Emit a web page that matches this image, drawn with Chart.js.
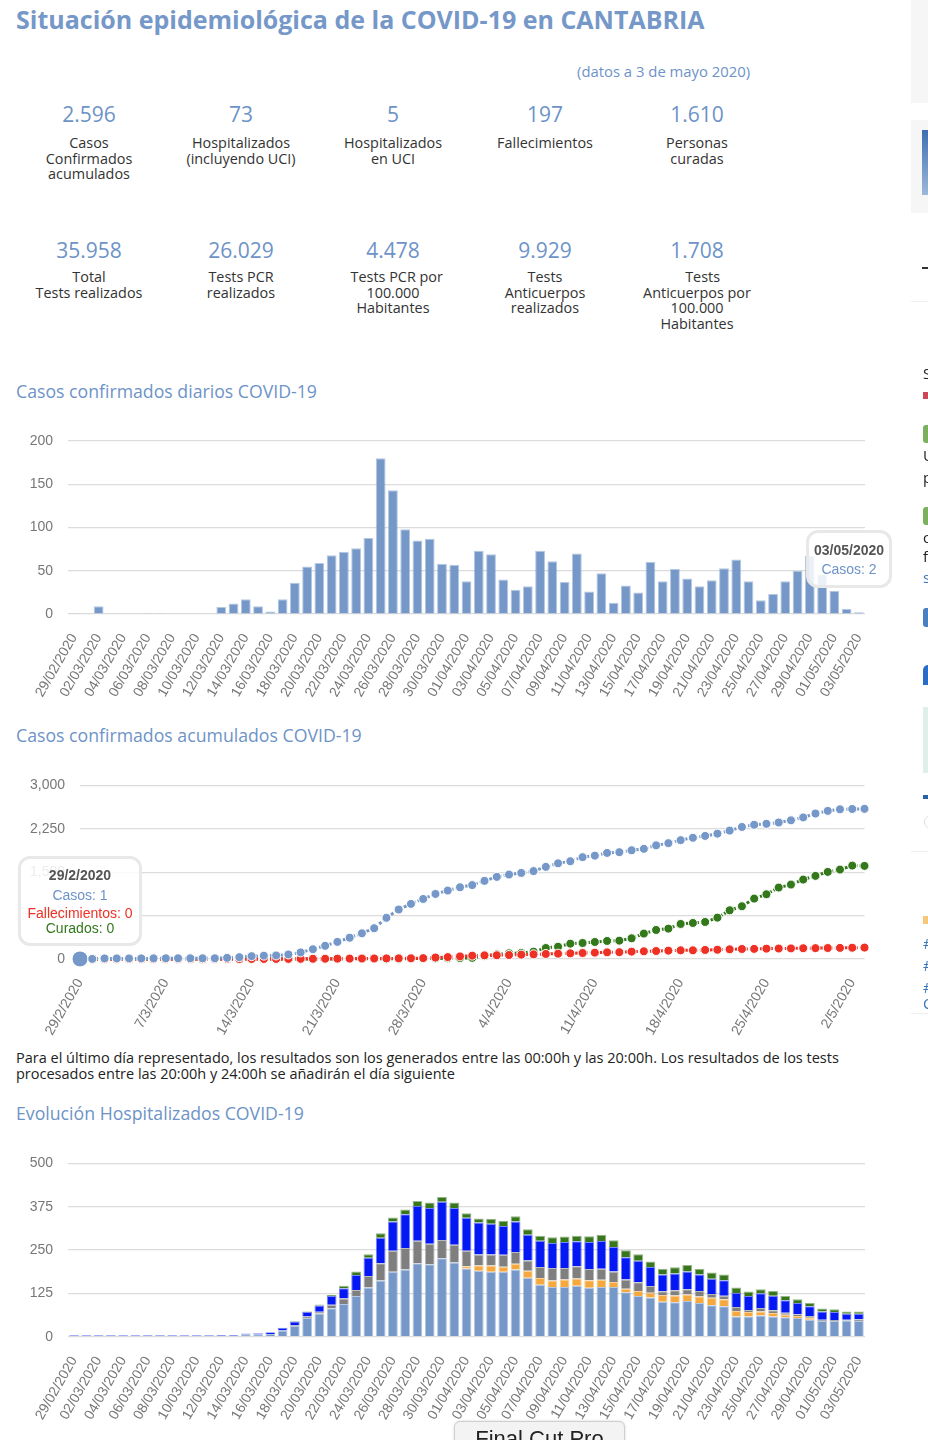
<!DOCTYPE html>
<html lang="es">
<head>
<meta charset="utf-8">
<title>Situación epidemiológica COVID-19 Cantabria</title>
<script src="https://cdn.jsdelivr.net/npm/chart.js@4"></script>
<style>
html, body { margin: 0; padding: 0; background: #fff; }
body { position: relative; width: 928px; height: 1440px; overflow: hidden; font-family: "Open Sans", sans-serif; }
.abs { position: absolute; }
h1 { position: absolute; left: 16px; top: 2px; margin: 0; font-size: 25px; line-height: 34px; font-weight: 700; color: #7598c9; white-space: nowrap; }
h2 { position: absolute; left: 16px; margin: 0; font-size: 17.7px; line-height: 26px; font-weight: 400; color: #6d93c7; white-space: nowrap; }
.num { position: absolute; width: 150px; text-align: center; font-size: 21px; line-height: 28px; color: #6d93c7; }
.lab { position: absolute; width: 150px; text-align: center; font-size: 14.4px; line-height: 15.6px; color: #333; white-space: pre-line; }
canvas { position: absolute; left: 0; }
.tip { position: absolute; box-sizing: border-box; background: rgba(255,255,255,.86); border: 3px solid #e8e8e8; border-radius: 12px; font-family: "Liberation Sans", sans-serif; font-size: 14px; text-align: center; }
.tip b { color: #555; display: block; }
.tip span { display: block; }
.side { position: absolute; left: 911px; width: 17px; }
.frag { position: absolute; left: 923px; font-size: 15px; line-height: 18px; color: #222; }
</style>
</head>
<body>
<h1>Situación epidemiológica de la COVID-19 en CANTABRIA</h1>
<div class="abs" style="left:577px;top:61px;font-size:14.85px;line-height:20px;color:#6d93c7;white-space:nowrap">(datos a 3 de mayo 2020)</div>

<div id="stats"></div>

<h2 style="top:378px">Casos confirmados diarios COVID-19</h2>
<canvas id="diarios"></canvas>
<div class="tip" style="left:806px;top:530px;width:86px;height:58px;padding-top:8px;line-height:19px"><b>03/05/2020</b><span style="color:#6d93c7">Casos: 2</span></div>

<h2 style="top:722px">Casos confirmados acumulados COVID-19</h2>
<canvas id="acumulados"></canvas>
<div class="tip" style="left:18px;top:856px;width:124px;height:90px;padding-top:6.5px"><b style="line-height:19px">29/2/2020</b><span style="color:#6d93c7;line-height:21px">Casos: 1</span><span style="color:#ee3124;line-height:15.5px">Fallecimientos: 0</span><span style="color:#33791b;line-height:15.5px">Curados: 0</span></div>

<div class="abs" style="left:16px;top:1050px;width:870px;font-size:14.5px;line-height:16px;color:#222">Para el último día representado, los resultados son los generados entre las 00:00h y las 20:00h. Los resultados de los tests procesados entre las 20:00h y 24:00h se añadirán el día siguiente</div>

<h2 style="top:1100px">Evolución Hospitalizados COVID-19</h2>
<canvas id="hospitalizados"></canvas>

<!-- trozo de barra lateral recortada -->
<div class="side" style="top:0;height:103px;background:#f6f6f6"></div>
<div class="side" style="top:120px;height:93px;background:#f6f6f6"></div>
<div class="abs" style="left:922px;top:130px;width:6px;height:65px;background:linear-gradient(#3f6fb0,#9db8d8)"></div>
<div class="abs" style="left:922px;top:267px;width:6px;height:1.5px;background:#333"></div>
<div class="side" style="top:301px;height:1px;background:#eee"></div>
<div class="frag" style="top:364px">S</div>
<div class="abs" style="left:923px;top:392px;width:5px;height:7px;background:#c9485a"></div>
<div class="abs" style="left:923px;top:425px;width:5px;height:18px;background:#7cb05f;border-radius:3px 0 0 3px"></div>
<div class="frag" style="top:446px">U</div>
<div class="frag" style="top:468px">p</div>
<div class="abs" style="left:923px;top:507px;width:5px;height:18px;background:#7cb05f;border-radius:3px 0 0 3px"></div>
<div class="frag" style="top:528px">o</div>
<div class="frag" style="top:547px">f</div>
<div class="frag" style="top:568px;color:#3a76b8">s</div>
<div class="abs" style="left:923px;top:608px;width:5px;height:19px;background:#4a7fc0;border-radius:3px 0 0 3px"></div>
<div class="abs" style="left:923px;top:665px;width:5px;height:20px;background:#2b6cc4;border-radius:5px 0 0 0"></div>
<div class="abs" style="left:923px;top:707px;width:5px;height:66px;background:#dff0ea"></div>
<div class="abs" style="left:923px;top:795px;width:5px;height:4px;background:#2a62a8"></div>
<div class="abs" style="left:924px;top:815px;width:12px;height:12px;border:1px solid #ddd;border-radius:7px"></div>
<div class="side" style="top:851px;height:1px;background:#eee"></div>
<div class="abs" style="left:923px;top:916px;width:5px;height:8px;background:#f6c77a"></div>
<div class="frag" style="top:934px;color:#3a76b8">#</div>
<div class="frag" style="top:956px;color:#3a76b8">#</div>
<div class="frag" style="top:978px;color:#3a76b8">#</div>
<div class="frag" style="top:994px;color:#3a76b8">C</div>
<div class="side" style="top:1013px;height:1px;background:#eee"></div>

<div class="abs" style="left:454px;top:1421px;width:169px;height:40px;background:#f3f3f3;border:1px solid #cfcfcf;border-radius:6px;box-shadow:0 0 3px rgba(0,0,0,.15);font-family:'Liberation Sans',sans-serif;font-size:22px;line-height:34px;text-align:center;color:#222">Final Cut Pro</div>

<script>
// Cifras de cabecera
const statCols = [89, 241, 393, 545, 697];
const statsTop = ['2.596', '73', '5', '197', '1.610'];
const labelsTop = ['Casos\nConfirmados\nacumulados', 'Hospitalizados\n(incluyendo UCI)', 'Hospitalizados\nen UCI', 'Fallecimientos', 'Personas\ncuradas'];
const statsBottom = ['35.958', '26.029', '4.478', '9.929', '1.708'];
const labelsBottom = ['Total\nTests realizados', 'Tests PCR\nrealizados', '\u00a0\u00a0Tests PCR por\n100.000\nHabitantes', 'Tests\nAnticuerpos\nrealizados', '\u00a0\u00a0\u00a0Tests\nAnticuerpos por\n100.000\nHabitantes'];

const fechas = [
    '29/02/2020', '01/03/2020', '02/03/2020', '03/03/2020', '04/03/2020', '05/03/2020', '06/03/2020', '07/03/2020', '08/03/2020', '09/03/2020',
    '10/03/2020', '11/03/2020', '12/03/2020', '13/03/2020', '14/03/2020', '15/03/2020', '16/03/2020', '17/03/2020', '18/03/2020', '19/03/2020',
    '20/03/2020', '21/03/2020', '22/03/2020', '23/03/2020', '24/03/2020', '25/03/2020', '26/03/2020', '27/03/2020', '28/03/2020', '29/03/2020',
    '30/03/2020', '31/03/2020', '01/04/2020', '02/04/2020', '03/04/2020', '04/04/2020', '05/04/2020', '06/04/2020', '07/04/2020', '08/04/2020',
    '09/04/2020', '10/04/2020', '11/04/2020', '12/04/2020', '13/04/2020', '14/04/2020', '15/04/2020', '16/04/2020', '17/04/2020', '18/04/2020',
    '19/04/2020', '20/04/2020', '21/04/2020', '22/04/2020', '23/04/2020', '24/04/2020', '25/04/2020', '26/04/2020', '27/04/2020', '28/04/2020',
    '29/04/2020', '30/04/2020', '01/05/2020', '02/05/2020', '03/05/2020'
];
const fechasCortas = [
    '29/2/2020', '1/3/2020', '2/3/2020', '3/3/2020', '4/3/2020', '5/3/2020', '6/3/2020', '7/3/2020', '8/3/2020', '9/3/2020',
    '10/3/2020', '11/3/2020', '12/3/2020', '13/3/2020', '14/3/2020', '15/3/2020', '16/3/2020', '17/3/2020', '18/3/2020', '19/3/2020',
    '20/3/2020', '21/3/2020', '22/3/2020', '23/3/2020', '24/3/2020', '25/3/2020', '26/3/2020', '27/3/2020', '28/3/2020', '29/3/2020',
    '30/3/2020', '31/3/2020', '1/4/2020', '2/4/2020', '3/4/2020', '4/4/2020', '5/4/2020', '6/4/2020', '7/4/2020', '8/4/2020',
    '9/4/2020', '10/4/2020', '11/4/2020', '12/4/2020', '13/4/2020', '14/4/2020', '15/4/2020', '16/4/2020', '17/4/2020', '18/4/2020',
    '19/4/2020', '20/4/2020', '21/4/2020', '22/4/2020', '23/4/2020', '24/4/2020', '25/4/2020', '26/4/2020', '27/4/2020', '28/4/2020',
    '29/4/2020', '30/4/2020', '1/5/2020', '2/5/2020', '3/5/2020'
];

const casosDiarios = [
    1, 0, 9, 0, 0, 0, 1, 1, 0, 0, 0, 0, 8, 12, 17, 9, 3, 17, 36, 55, 59, 68, 72, 76, 88, 180, 143, 98, 85, 87, 58, 57,
    38, 73, 69, 40, 28, 32, 73, 61, 37, 70, 26, 47, 13, 33, 25, 60, 38, 52, 41, 32, 39, 53, 63, 38, 16, 23, 38, 50, 67, 46, 27, 6, 2
];

const casosAcum = [
    1, 1, 10, 10, 10, 10, 11, 12, 12, 12, 12, 12, 20, 32, 49, 58, 61, 78, 114, 169, 228, 296, 368, 444, 532, 712, 855, 953, 1038, 1125, 1183, 1240,
    1278, 1351, 1420, 1460, 1488, 1520, 1593, 1654, 1691, 1761, 1787, 1834, 1847, 1880, 1905, 1965, 2003, 2055, 2096, 2128, 2167, 2220, 2283, 2321, 2337, 2360, 2398, 2448, 2515, 2561, 2588, 2594, 2596
];
const fallecimientos = [
    0, 0, 0, 0, 0, 0, 0, 0, 0, 0, 0, 0, 0, 0, 1, 1, 1, 2, 3, 4, 5, 6, 7, 8, 9, 10, 11, 12, 15, 25, 33, 45,
    58, 63, 65, 69, 75, 81, 87, 92, 98, 104, 110, 115, 118, 127, 133, 138, 144, 150, 150, 156, 160, 167, 173, 175, 179, 181, 183, 186, 188, 190, 192, 195, 197
];
const curados = [
    0, 0, 0, 0, 0, 0, 0, 0, 0, 0, 0, 0, 0, 0, 0, 0, 0, 0, 1, 1, 2, 2, 3, 3, 4, 5, 5, 6, 8, 10, 12, 15,
    20, 50, 80, 98, 104, 127, 190, 213, 265, 277, 294, 312, 317, 358, 439, 502, 525, 606, 623, 640, 715, 842, 912, 1044, 1119, 1235, 1287, 1373, 1437, 1506, 1546, 1615, 1610
];

// Hospitalizados, de abajo arriba
const hospPlanta = [
    2, 2, 2, 2, 2, 2, 2, 2, 2, 2, 2, 2, 3, 3, 6, 6, 8, 18, 31, 54, 67, 82, 94, 117, 142, 162, 187, 194, 212, 209, 226, 214,
    197, 190, 187, 187, 194, 170, 150, 143, 143, 147, 141, 143, 143, 128, 117, 113, 101, 99, 103, 97, 91, 88, 58, 58, 61, 58, 56, 54, 49, 45, 45, 47, 45
];
const hospNaranja = [
    0, 0, 0, 0, 0, 0, 0, 0, 0, 0, 0, 0, 0, 0, 0, 0, 0, 0, 0, 0, 0, 0, 0, 0, 0, 0, 0, 0, 0, 0, 0, 0,
    6, 15, 18, 15, 16, 20, 19, 19, 22, 21, 22, 21, 15, 10, 15, 14, 19, 20, 19, 19, 21, 20, 16, 13, 12, 10, 7, 6, 6, 0, 0, 0, 0
];
const hospGris = [
    0, 0, 0, 0, 0, 0, 0, 0, 0, 0, 0, 0, 0, 0, 0, 0, 0, 0, 2, 4, 5, 10, 16, 18, 33, 50, 61, 62, 65, 59, 53, 51,
    45, 32, 32, 34, 34, 30, 32, 36, 33, 35, 32, 32, 30, 27, 25, 19, 11, 15, 15, 16, 11, 10, 12, 6, 10, 8, 6, 5, 5, 4, 3, 2, 5
];
const hospAzul = [
    2, 2, 2, 2, 2, 2, 2, 2, 2, 2, 2, 2, 2, 2, 3, 4, 5, 8, 11, 13, 18, 25, 30, 43, 53, 73, 84, 97, 100, 103, 110, 106,
    95, 92, 89, 83, 88, 74, 76, 72, 75, 72, 78, 80, 71, 64, 62, 55, 48, 48, 51, 47, 44, 45, 40, 40, 42, 42, 36, 32, 28, 24, 23, 17, 16
];
const hospVerde = [
    0, 0, 0, 0, 0, 0, 0, 0, 0, 0, 0, 0, 0, 0, 0, 0, 0, 0, 1, 2, 3, 3, 7, 10, 10, 13, 12, 14, 14, 16, 14, 16,
    13, 12, 14, 15, 15, 16, 14, 17, 16, 16, 17, 18, 19, 20, 19, 16, 17, 18, 19, 17, 18, 16, 16, 13, 12, 14, 12, 11, 9, 8, 8, 7, 7
];

const AZUL = '#7598c9';
const ROJO = '#ee3124';
const VERDE = '#33791b';
const tickFont = { family: '"Liberation Sans", sans-serif', size: 14 };

function pintarCifras() {
    const box = document.getElementById('stats');
    const add = (cls, txt, left, top) => {
        const d = document.createElement('div');
        d.className = cls;
        d.textContent = txt;
        d.style.left = (left - 75) + 'px';
        d.style.top = top + 'px';
        box.appendChild(d);
    };
    statCols.forEach((x, i) => {
        add('num', statsTop[i], x, 100);
        add('lab', labelsTop[i], x, 135);
        add('num', statsBottom[i], x, 236);
        add('lab', labelsBottom[i], x, 269);
    });
}

// Plot area fija: el eje y mide "left", el eje x lo que sobra por debajo
function fitY(left) {
    return s => { s.width = left; s.paddingTop = 0; s.paddingBottom = 0; s.paddingLeft = 0; s.paddingRight = 0; };
}
function fitX(height) {
    return s => { s.height = height; s.paddingTop = 0; s.paddingBottom = 0; s.paddingLeft = 0; s.paddingRight = 0; };
}

function ejes(left, bottom, yMax, yStep, skip, offset) {
    return {
        x: {
            offset: offset,
            stacked: offset,
            grid: { display: false },
            border: { display: false },
            afterFit: fitX(bottom),
            ticks: {
                autoSkip: false,
                minRotation: 60,
                maxRotation: 60,
                padding: 9,
                color: '#777',
                font: tickFont,
                callback: function(value, index) {
                    return index % skip === 0 ? this.getLabelForValue(value) : '';
                }
            }
        },
        y: {
            min: 0,
            max: yMax,
            stacked: offset,
            grid: { color: '#dcdcdc', drawTicks: false, lineWidth: 1.2 },
            border: { display: false },
            afterFit: fitY(left),
            ticks: {
                stepSize: yStep,
                padding: 15,
                color: '#777',
                font: tickFont,
                callback: v => v.toLocaleString('en-US')
            }
        }
    };
}

function crearCanvas(id, top, height) {
    const c = document.getElementById(id);
    c.style.top = top + 'px';
    c.style.width = '928px';
    c.style.height = height + 'px';
    c.width = 928;
    c.height = height;
    return c;
}

function barra(label, data, color) {
    return {
        label, data,
        backgroundColor: color,
        borderColor: color + '88',
        borderWidth: 1,
        barPercentage: 1,
        categoryPercentage: 0.8
    };
}

function linea(label, data, color, hoverFirst) {
    return {
        label, data,
        borderColor: color,
        backgroundColor: color,
        borderWidth: 3,
        borderDash: [3, 2],
        pointBorderColor: '#fff',
        pointBorderWidth: 1,
        pointRadius: ctx => (hoverFirst && ctx.dataIndex === 0 ? 8 : 4.5),
        tension: 0,
        clip: false
    };
}

const baseOpts = padding => ({
    responsive: false,
    animation: false,
    devicePixelRatio: 1,
    layout: { padding },
    plugins: { legend: { display: false }, tooltip: { enabled: false } }
});

pintarCifras();

new Chart(crearCanvas('diarios', 420, 300), {
    type: 'bar',
    data: { labels: fechas, datasets: [barra('Casos', casosDiarios, AZUL)] },
    options: { ...baseOpts({ top: 21, right: 63 }), scales: ejes(68, 106, 200, 50, 2, true) }
});

new Chart(crearCanvas('acumulados', 770, 275), {
    type: 'line',
    data: {
        labels: fechasCortas,
        datasets: [
            linea('Casos', casosAcum, AZUL, true),
            linea('Fallecimientos', fallecimientos, ROJO, false),
            linea('Curados', curados, VERDE, false)
        ]
    },
    options: { ...baseOpts({ top: 15.5, right: 63.5 }), scales: ejes(80, 86, 3000, 750, 7, false) }
});

new Chart(crearCanvas('hospitalizados', 1150, 290), {
    type: 'bar',
    data: {
        labels: fechas,
        datasets: [
            barra('Planta', hospPlanta, AZUL),
            barra('Naranja', hospNaranja, '#f4a83d'),
            barra('Gris', hospGris, '#7f7f7f'),
            barra('UCI', hospAzul, '#0418f4'),
            barra('Verde', hospVerde, '#38761d')
        ]
    },
    options: { ...baseOpts({ top: 13.3, right: 63 }), scales: ejes(68, 103.3, 500, 125, 2, true) }
});
</script>
</body>
</html>
